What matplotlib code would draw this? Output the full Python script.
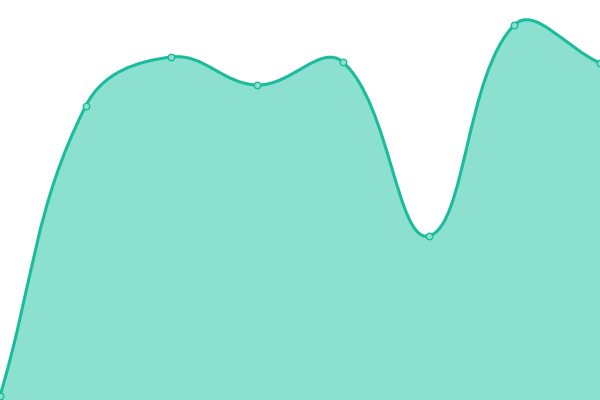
import numpy as np
import matplotlib.pyplot as plt
from matplotlib.path import Path
from matplotlib.patches import PathPatch

labels = ["A", "B", "C", "D", "E", "F", "G", "H"]
values = [4, 294, 343, 315, 338, 164, 375, 337]

line_color = "#1abc9c"
fill_color = "#8ce0d0"

x = np.arange(len(values), dtype=float)
y = np.array(values, dtype=float)

# pixel-like scale so the tension behaves as in a canvas chart
sx, sy = 600 / (len(values) - 1), 1.0
px, py = x * sx, y * sy


def controls(i, t=0.4):
    p0 = (px[max(i - 1, 0)], py[max(i - 1, 0)])
    p1 = (px[i], py[i])
    p2 = (px[min(i + 1, len(px) - 1)], py[min(i + 1, len(px) - 1)])
    d01 = np.hypot(p1[0] - p0[0], p1[1] - p0[1])
    d12 = np.hypot(p2[0] - p1[0], p2[1] - p1[1])
    tot = d01 + d12
    s01 = d01 / tot if tot else 0
    s12 = d12 / tot if tot else 0
    fa, fb = t * s01, t * s12
    prev = (p1[0] - fa * (p2[0] - p0[0]), p1[1] - fa * (p2[1] - p0[1]))
    nxt = (p1[0] + fb * (p2[0] - p0[0]), p1[1] + fb * (p2[1] - p0[1]))
    return prev, nxt


verts = [(px[0] / sx, py[0] / sy)]
codes = [Path.MOVETO]
for i in range(len(px) - 1):
    _, c1 = controls(i)
    c2, _ = controls(i + 1)
    for p in (c1, c2, (px[i + 1], py[i + 1])):
        verts.append((p[0] / sx, p[1] / sy))
        codes.append(Path.CURVE4)

fig = plt.figure(figsize=(6, 4), dpi=100)
ax = fig.add_axes([0, 0, 1, 1])

fill_verts = verts + [(x[-1], 0), (x[0], 0), verts[0]]
fill_codes = codes + [Path.LINETO, Path.LINETO, Path.CLOSEPOLY]
ax.add_patch(PathPatch(Path(fill_verts, fill_codes), facecolor=fill_color,
                       edgecolor="none", zorder=1))
ax.add_patch(PathPatch(Path(verts, codes), facecolor="none",
                       edgecolor=line_color, lw=2.2, zorder=2))
ax.scatter(x, y, s=22, facecolor=fill_color, edgecolor=line_color,
           linewidth=1, zorder=3, clip_on=False)

ax.set_xlim(0, len(values) - 1)
ax.set_ylim(0, 400)
ax.axis("off")

fig.savefig("out.png", dpi=100)
